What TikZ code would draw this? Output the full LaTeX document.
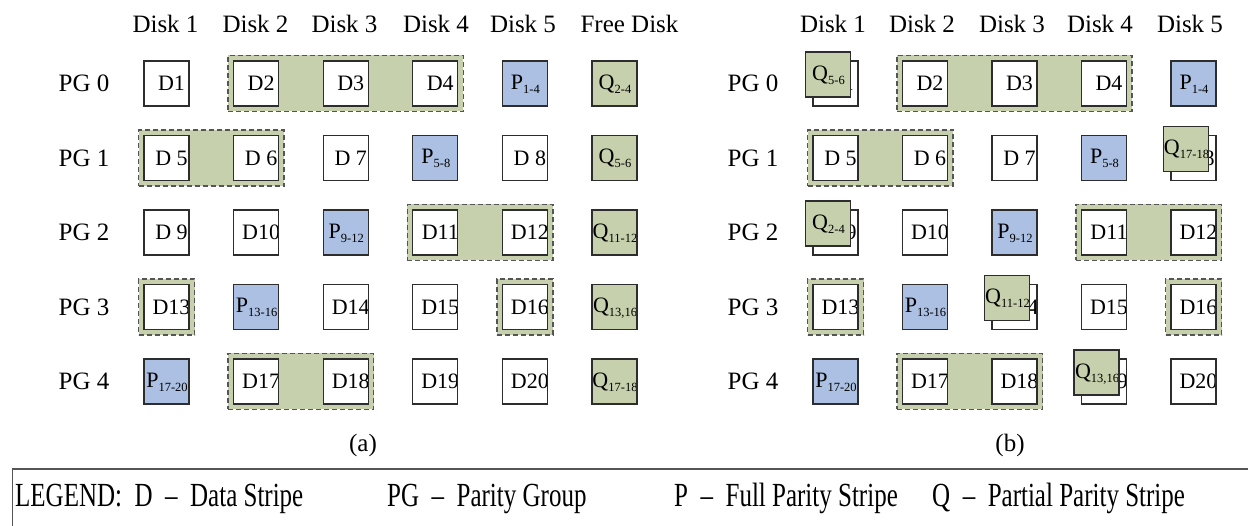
\documentclass[tikz,border=0pt]{standalone}
\usepackage{fontspec}
\setmainfont{Liberation Serif}
\usetikzlibrary{fit,backgrounds}
\definecolor{qgreen}{RGB}{199,208,172}
\definecolor{pblue}{RGB}{171,192,226}
\definecolor{edgec}{RGB}{45,45,45}
\definecolor{dashc}{RGB}{85,85,85}
\newcommand\sbs[1]{\raisebox{-4pt}{\fontsize{12.5}{12.5}\selectfont #1}}
\newcommand\hfont{\fontsize{25}{25}\selectfont}
\newcommand\cfont{\fontsize{22}{22}\selectfont}
\newcommand\lfont{\fontsize{25}{25}\selectfont}
\tikzset{
  cell/.style={draw=edgec, line width=1.3pt, minimum size=45pt, inner sep=0pt, outer sep=0pt},
  dcell/.style={cell, fill=white, path picture={\node[anchor=base, font=\cfont, inner sep=0pt] at ([xshift=5pt, yshift=-7.3pt]path picture bounding box.center) {#1};}},
  pcell/.style={cell, fill=pblue, path picture={\node[anchor=base, font=\cfont, inner sep=0pt] at ([xshift=0.5pt, yshift=-6pt]path picture bounding box.center) {#1};}},
  qcell/.style={cell, fill=qgreen, path picture={\node[anchor=base, font=\cfont, inner sep=0pt] at ([xshift=0.5pt, yshift=-6pt]path picture bounding box.center) {#1};}},
  grp/.style={draw=dashc, dash pattern=on 5pt off 3pt, line width=1.3pt, fill=qgreen, inner sep=5.5pt},
  head/.style={font=\hfont, anchor=base, inner sep=0pt},
  leg/.style={font=\lfont, anchor=base west, inner sep=0pt}
}
\begin{document}
\begin{tikzpicture}[x=1pt,y=-1pt]
\useasboundingbox (0,0) rectangle (1248,526);
% ---------- headings (a)
\node[head] (ha1) at (165.5,33) {Disk 1};
\node[head] (ha2) at (255.5,33) {Disk 2};
\node[head] (ha3) at (344.5,33) {Disk 3};
\node[head] (ha4) at (436,33) {Disk 4};
\node[head] (ha5) at (523,33) {Disk 5};
\node[head] (ha6) at (629.5,33) {Free Disk};
\foreach \r/\yy in {0/83.5,1/158,2/232.5,3/307,4/381.5}{
  \node[head] (pga\r) at (84,\yy+8.5) {PG \r};
  \node[head] (pgb\r) at (753,\yy+8.5) {PG \r};
}
% ---------- headings (b)
\node[head] (hb1) at (833,33) {Disk 1};
\node[head] (hb2) at (922,33) {Disk 2};
\node[head] (hb3) at (1012,33) {Disk 3};
\node[head] (hb4) at (1100,33) {Disk 4};
\node[head] (hb5) at (1190,33) {Disk 5};
% ---------- panel (a)
\node[dcell={D1}] (a00) at (166.5,83.5) {};
\node[dcell={D2}] (a01) at (256.1,83.5) {};
\node[dcell={D3}] (a02) at (345.7,83.5) {};
\node[dcell={D4}] (a03) at (435.3,83.5) {};
\node[pcell={P\sbs{1-4}}] (a04) at (524.9,83.5) {};
\node[qcell={Q\sbs{2-4}}] (a05) at (614.5,83.5) {};
\node[dcell={D 5}] (a10) at (166.5,158) {};
\node[dcell={D 6}] (a11) at (256.1,158) {};
\node[dcell={D 7}] (a12) at (345.7,158) {};
\node[pcell={P\sbs{5-8}}] (a13) at (435.3,158) {};
\node[dcell={D 8}] (a14) at (524.9,158) {};
\node[qcell={Q\sbs{5-6}}] (a15) at (614.5,158) {};
\node[dcell={D 9}] (a20) at (166.5,232.5) {};
\node[dcell={D10}] (a21) at (256.1,232.5) {};
\node[pcell={P\sbs{9-12}}] (a22) at (345.7,232.5) {};
\node[dcell={D11}] (a23) at (435.3,232.5) {};
\node[dcell={D12}] (a24) at (524.9,232.5) {};
\node[qcell={Q\sbs{11-12}}] (a25) at (614.5,232.5) {};
\node[dcell={D13}] (a30) at (166.5,307) {};
\node[pcell={P\sbs{13-16}}] (a31) at (256.1,307) {};
\node[dcell={D14}] (a32) at (345.7,307) {};
\node[dcell={D15}] (a33) at (435.3,307) {};
\node[dcell={D16}] (a34) at (524.9,307) {};
\node[qcell={Q\sbs{13,16}}] (a35) at (614.5,307) {};
\node[pcell={P\sbs{17-20}}] (a40) at (166.5,381.5) {};
\node[dcell={D17}] (a41) at (256.1,381.5) {};
\node[dcell={D18}] (a42) at (345.7,381.5) {};
\node[dcell={D19}] (a43) at (435.3,381.5) {};
\node[dcell={D20}] (a44) at (524.9,381.5) {};
\node[qcell={Q\sbs{17-18}}] (a45) at (614.5,381.5) {};
% ---------- panel (b)
\node[dcell={D1}] (b00) at (835.5,83.5) {};
\node[qcell={Q\sbs{5-6}}] (q00) at (828,74.5) {};
\node[dcell={D2}] (b01) at (925,83.5) {};
\node[dcell={D3}] (b02) at (1014.5,83.5) {};
\node[dcell={D4}] (b03) at (1104,83.5) {};
\node[pcell={P\sbs{1-4}}] (b04) at (1193.5,83.5) {};
\node[dcell={D 5}] (b10) at (835.5,158) {};
\node[dcell={D 6}] (b11) at (925,158) {};
\node[dcell={D 7}] (b12) at (1014.5,158) {};
\node[pcell={P\sbs{5-8}}] (b13) at (1104,158) {};
\node[dcell={D 8}] (b14) at (1193.5,158) {};
\node[qcell={Q\sbs{17-18}}] (q14) at (1186,149) {};
\node[dcell={D 9}] (b20) at (835.5,232.5) {};
\node[qcell={Q\sbs{2-4}}] (q20) at (828,223.5) {};
\node[dcell={D10}] (b21) at (925,232.5) {};
\node[pcell={P\sbs{9-12}}] (b22) at (1014.5,232.5) {};
\node[dcell={D11}] (b23) at (1104,232.5) {};
\node[dcell={D12}] (b24) at (1193.5,232.5) {};
\node[dcell={D13}] (b30) at (835.5,307) {};
\node[pcell={P\sbs{13-16}}] (b31) at (925,307) {};
\node[dcell={D14}] (b32) at (1014.5,307) {};
\node[qcell={Q\sbs{11-12}}] (q32) at (1007,298) {};
\node[dcell={D15}] (b33) at (1104,307) {};
\node[dcell={D16}] (b34) at (1193.5,307) {};
\node[pcell={P\sbs{17-20}}] (b40) at (835.5,381.5) {};
\node[dcell={D17}] (b41) at (925,381.5) {};
\node[dcell={D18}] (b42) at (1014.5,381.5) {};
\node[dcell={D19}] (b43) at (1104,381.5) {};
\node[qcell={Q\sbs{13,16}}] (q43) at (1096.5,372.5) {};
\node[dcell={D20}] (b44) at (1193.5,381.5) {};
% ---------- parity group frames
\begin{scope}[on background layer]
\node[grp, fit=(a01)(a03)] (ga0) {};
\node[grp, fit=(a10)(a11)] (ga1) {};
\node[grp, fit=(a23)(a24)] (ga2) {};
\node[grp, fit=(a30)] (ga3a) {};
\node[grp, fit=(a34)] (ga3b) {};
\node[grp, fit=(a41)(a42)] (ga4) {};
\node[grp, fit=(b01)(b03)] (gb0) {};
\node[grp, fit=(b10)(b11)] (gb1) {};
\node[grp, fit=(b23)(b24)] (gb2) {};
\node[grp, fit=(b30)] (gb3a) {};
\node[grp, fit=(b34)] (gb3b) {};
\node[grp, fit=(b41)(b42)] (gb4) {};
\end{scope}
% ---------- captions
\node[head] (capa) at (363,451) {(a)};
\node[head] (capb) at (1010,451) {(b)};
% ---------- legend
\coordinate (lgA) at (12.5,526);
\coordinate (lgB) at (12.5,469);
\coordinate (lgC) at (1248,469);
\draw[draw=dashc, line width=1.3pt] (lgA) -- (lgB) -- (lgC);
\node[leg] (l1) at (15,506) {\scalebox{1.0}[1.35]{LEGEND:\ \ D\ \ –\ \ Data Stripe}};
\node[leg] (l2) at (387,506) {\scalebox{1.0}[1.35]{PG\ \ –\ \ Parity Group}};
\node[leg] (l3) at (674,506) {\scalebox{1.0}[1.35]{P\ \ –\ \ Full Parity Stripe}};
\node[leg] (l4) at (932,506) {\scalebox{1.0}[1.35]{Q\ \ –\ \ Partial Parity Stripe}};
\end{tikzpicture}
\end{document}
